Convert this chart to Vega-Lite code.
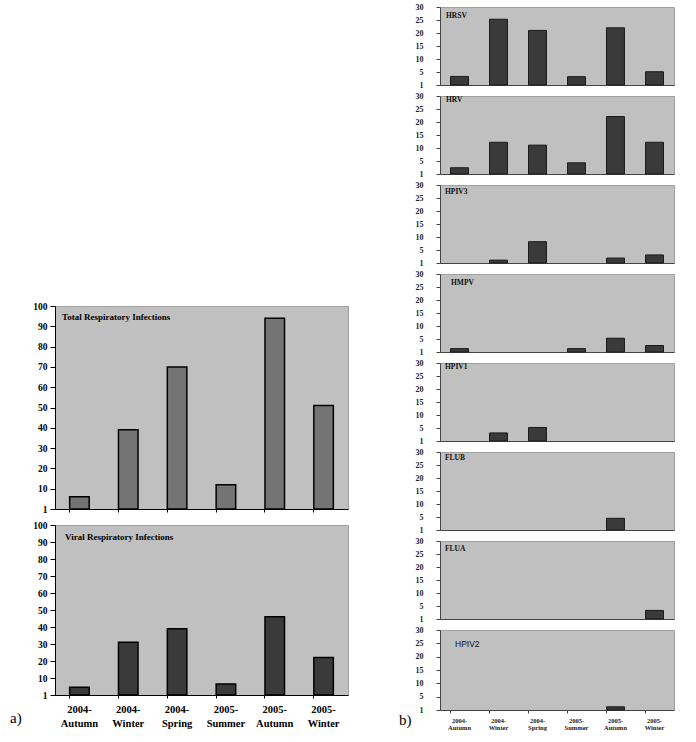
{
  "$schema": "https://vega.github.io/schema/vega-lite/v6.json",
  "padding": {"left": 10, "top": 2, "right": 5, "bottom": 5},
  "background": "white",
  "config": {
    "view": {"stroke": null},
    "axis": {"labelFont": "Liberation Serif", "labelFontWeight": "bold", "labelColor": "#000", "domainColor": "#000", "tickColor": "#000", "grid": false, "title": null}
  },
  "datasets": {
    "left": [
      {"panel": "Total", "season": "2004-Autumn", "count": 6},
      {"panel": "Total", "season": "2004-Winter", "count": 39},
      {"panel": "Total", "season": "2004-Spring", "count": 70},
      {"panel": "Total", "season": "2005-Summer", "count": 12},
      {"panel": "Total", "season": "2005-Autumn", "count": 94},
      {"panel": "Total", "season": "2005-Winter", "count": 51},
      {"panel": "Viral", "season": "2004-Autumn", "count": 4.5},
      {"panel": "Viral", "season": "2004-Winter", "count": 31},
      {"panel": "Viral", "season": "2004-Spring", "count": 39},
      {"panel": "Viral", "season": "2005-Summer", "count": 6.5},
      {"panel": "Viral", "season": "2005-Autumn", "count": 46},
      {"panel": "Viral", "season": "2005-Winter", "count": 22}
    ],
    "right": [
      {"virus": "HRSV", "season": "2004-Autumn", "count": 3.3},
      {"virus": "HRSV", "season": "2004-Winter", "count": 25.3},
      {"virus": "HRSV", "season": "2004-Spring", "count": 21},
      {"virus": "HRSV", "season": "2005-Summer", "count": 3.2},
      {"virus": "HRSV", "season": "2005-Autumn", "count": 22},
      {"virus": "HRSV", "season": "2005-Winter", "count": 5.1},
      {"virus": "HRV", "season": "2004-Autumn", "count": 2.4},
      {"virus": "HRV", "season": "2004-Winter", "count": 12.2},
      {"virus": "HRV", "season": "2004-Spring", "count": 11.1},
      {"virus": "HRV", "season": "2005-Summer", "count": 4.3},
      {"virus": "HRV", "season": "2005-Autumn", "count": 22.1},
      {"virus": "HRV", "season": "2005-Winter", "count": 12.2},
      {"virus": "HPIV3", "season": "2004-Winter", "count": 1.1},
      {"virus": "HPIV3", "season": "2004-Spring", "count": 8.2},
      {"virus": "HPIV3", "season": "2005-Autumn", "count": 1.9},
      {"virus": "HPIV3", "season": "2005-Winter", "count": 3.1},
      {"virus": "HMPV", "season": "2004-Autumn", "count": 1.3},
      {"virus": "HMPV", "season": "2005-Summer", "count": 1.3},
      {"virus": "HMPV", "season": "2005-Autumn", "count": 5.3},
      {"virus": "HMPV", "season": "2005-Winter", "count": 2.5},
      {"virus": "HPIV1", "season": "2004-Winter", "count": 3.1},
      {"virus": "HPIV1", "season": "2004-Spring", "count": 5.2},
      {"virus": "FLUB", "season": "2005-Autumn", "count": 4.5},
      {"virus": "FLUA", "season": "2005-Winter", "count": 3.3},
      {"virus": "HPIV2", "season": "2005-Autumn", "count": 1.2}
    ]
  },
  "hconcat": [
    {
      "data": {"name": "left"},
      "bounds": "flush",
      "spacing": 16,
      "title": {"text": "a)", "orient": "bottom", "anchor": "start", "frame": "group", "baseline": "top", "offset": 0, "dx": -45, "dy": -18, "font": "Liberation Serif", "fontSize": 15, "fontWeight": "normal", "color": "#000"},
      "vconcat": [
        {"width": 293, "height": 283, "data": {"values": []}, "mark": "rule", "encoding": {}},
        {
          "width": 293, "height": 203,
          "view": {"fill": "#c0c0c0", "stroke": "#a0a0a0"},
          "title": {"text": "Total Respiratory Infections", "anchor": "start", "frame": "group", "orient": "top", "baseline": "top", "offset": 0, "dx": 7, "dy": 21, "font": "Liberation Serif", "fontSize": 9, "fontWeight": "bold", "color": "#000"},
          "transform": [{"filter": "datum.panel == 'Total'"}],
          "mark": {"type": "bar", "fill": "#747474", "stroke": "#000", "strokeWidth": 1.5},
          "encoding": {
            "x": {"field": "season", "type": "nominal", "sort": null,
              "scale": {"domain": ["2004-Autumn", "2004-Winter", "2004-Spring", "2005-Summer", "2005-Autumn", "2005-Winter"], "paddingInner": 0.6, "paddingOuter": 0.3},
              "axis": {"labels": false, "ticks": true, "tickSize": 3, "bandPosition": 0}},
            "y": {"field": "count", "type": "quantitative", "scale": {"domain": [0, 100], "nice": false},
              "axis": {"values": [0, 10, 20, 30, 40, 50, 60, 70, 80, 90, 100], "labelExpr": "datum.value == 0 ? '1' : datum.label", "labelFontSize": 9.5, "tickSize": 5, "labelPadding": 3}}
          }
        },
        {
          "width": 293, "height": 170,
          "view": {"fill": "#c0c0c0", "stroke": "#a0a0a0"},
          "title": {"text": "Viral Respiratory Infections", "anchor": "start", "frame": "group", "orient": "top", "baseline": "top", "offset": 0, "dx": 10, "dy": 22, "font": "Liberation Serif", "fontSize": 9, "fontWeight": "bold", "color": "#000"},
          "transform": [{"filter": "datum.panel == 'Viral'"}],
          "mark": {"type": "bar", "fill": "#3a3a3a", "stroke": "#000", "strokeWidth": 1.5},
          "encoding": {
            "x": {"field": "season", "type": "nominal", "sort": null,
              "scale": {"domain": ["2004-Autumn", "2004-Winter", "2004-Spring", "2005-Summer", "2005-Autumn", "2005-Winter"], "paddingInner": 0.6, "paddingOuter": 0.3},
              "axis": {"labelExpr": "[slice(datum.label, 0, 5), slice(datum.label, 5)]", "labelAngle": 0, "labelFontSize": 10.5, "labelLineHeight": 14, "tickSize": 3, "labelPadding": 6, "bandPosition": 0}},
            "y": {"field": "count", "type": "quantitative", "scale": {"domain": [0, 100], "nice": false},
              "axis": {"values": [0, 10, 20, 30, 40, 50, 60, 70, 80, 90, 100], "labelExpr": "datum.value == 0 ? '1' : datum.label", "labelFontSize": 9.5, "tickSize": 5, "labelPadding": 3}}
          }
        }
      ]
    },
    {
      "data": {"name": "right"},
      "bounds": "flush",
      "spacing": 11,
      "title": {"text": "b)", "orient": "bottom", "anchor": "start", "frame": "group", "baseline": "top", "offset": 0, "dx": -41, "dy": -18, "font": "Liberation Serif", "fontSize": 15, "fontWeight": "normal", "color": "#000"},
      "vconcat": [
        {
          "width": 234, "height": 78,
          "view": {"fill": "#c0c0c0", "stroke": "#a0a0a0"},
          "title": {"text": "HRSV", "anchor": "start", "frame": "group", "orient": "top", "baseline": "top", "offset": 0, "dx": 6, "dy": 16, "font": "Liberation Serif", "fontSize": 7.5, "fontWeight": "bold", "color": "#111"},
          "transform": [{"filter": "datum.virus == 'HRSV'"}],
          "mark": {"type": "bar", "fill": "#3a3a3a", "stroke": "#1a1a1a", "strokeWidth": 1},
          "encoding": {
            "x": {"field": "season", "type": "nominal", "sort": null, "scale": {"domain": ["2004-Autumn", "2004-Winter", "2004-Spring", "2005-Summer", "2005-Autumn", "2005-Winter"], "paddingInner": 0.54, "paddingOuter": 0.27}, "axis": {"labels": false, "ticks": false, "domainColor": "#444"}},
            "y": {"field": "count", "type": "quantitative", "scale": {"domain": [0, 30], "nice": false}, "axis": {"values": [0, 5, 10, 15, 20, 25, 30], "labelExpr": "datum.value == 0 ? '1' : datum.label", "labelFontSize": 8, "tickSize": 4, "labelPadding": 13, "domainColor": "#444", "tickColor": "#444", "labelColor": "#222"}}
          }
        },
        {
          "width": 234, "height": 78,
          "view": {"fill": "#c0c0c0", "stroke": "#a0a0a0"},
          "title": {"text": "HRV", "anchor": "start", "frame": "group", "orient": "top", "baseline": "top", "offset": 0, "dx": 6, "dy": 11, "font": "Liberation Serif", "fontSize": 7.5, "fontWeight": "bold", "color": "#111"},
          "transform": [{"filter": "datum.virus == 'HRV'"}],
          "mark": {"type": "bar", "fill": "#3a3a3a", "stroke": "#1a1a1a", "strokeWidth": 1},
          "encoding": {
            "x": {"field": "season", "type": "nominal", "sort": null, "scale": {"domain": ["2004-Autumn", "2004-Winter", "2004-Spring", "2005-Summer", "2005-Autumn", "2005-Winter"], "paddingInner": 0.54, "paddingOuter": 0.27}, "axis": {"labels": false, "ticks": false, "domainColor": "#444"}},
            "y": {"field": "count", "type": "quantitative", "scale": {"domain": [0, 30], "nice": false}, "axis": {"values": [0, 5, 10, 15, 20, 25, 30], "labelExpr": "datum.value == 0 ? '1' : datum.label", "labelFontSize": 8, "tickSize": 4, "labelPadding": 13, "domainColor": "#444", "tickColor": "#444", "labelColor": "#222"}}
          }
        },
        {
          "width": 234, "height": 78,
          "view": {"fill": "#c0c0c0", "stroke": "#a0a0a0"},
          "title": {"text": "HPIV3", "anchor": "start", "frame": "group", "orient": "top", "baseline": "top", "offset": 0, "dx": 5, "dy": 14, "font": "Liberation Serif", "fontSize": 7.5, "fontWeight": "bold", "color": "#111"},
          "transform": [{"filter": "datum.virus == 'HPIV3'"}],
          "mark": {"type": "bar", "fill": "#3a3a3a", "stroke": "#1a1a1a", "strokeWidth": 1},
          "encoding": {
            "x": {"field": "season", "type": "nominal", "sort": null, "scale": {"domain": ["2004-Autumn", "2004-Winter", "2004-Spring", "2005-Summer", "2005-Autumn", "2005-Winter"], "paddingInner": 0.54, "paddingOuter": 0.27}, "axis": {"labels": false, "ticks": false, "domainColor": "#444"}},
            "y": {"field": "count", "type": "quantitative", "scale": {"domain": [0, 30], "nice": false}, "axis": {"values": [0, 5, 10, 15, 20, 25, 30], "labelExpr": "datum.value == 0 ? '1' : datum.label", "labelFontSize": 8, "tickSize": 4, "labelPadding": 13, "domainColor": "#444", "tickColor": "#444", "labelColor": "#222"}}
          }
        },
        {
          "width": 234, "height": 78,
          "view": {"fill": "#c0c0c0", "stroke": "#a0a0a0"},
          "title": {"text": "HMPV", "anchor": "start", "frame": "group", "orient": "top", "baseline": "top", "offset": 0, "dx": 11, "dy": 16, "font": "Liberation Serif", "fontSize": 7.5, "fontWeight": "bold", "color": "#111"},
          "transform": [{"filter": "datum.virus == 'HMPV'"}],
          "mark": {"type": "bar", "fill": "#3a3a3a", "stroke": "#1a1a1a", "strokeWidth": 1},
          "encoding": {
            "x": {"field": "season", "type": "nominal", "sort": null, "scale": {"domain": ["2004-Autumn", "2004-Winter", "2004-Spring", "2005-Summer", "2005-Autumn", "2005-Winter"], "paddingInner": 0.54, "paddingOuter": 0.27}, "axis": {"labels": false, "ticks": false, "domainColor": "#444"}},
            "y": {"field": "count", "type": "quantitative", "scale": {"domain": [0, 30], "nice": false}, "axis": {"values": [0, 5, 10, 15, 20, 25, 30], "labelExpr": "datum.value == 0 ? '1' : datum.label", "labelFontSize": 8, "tickSize": 4, "labelPadding": 13, "domainColor": "#444", "tickColor": "#444", "labelColor": "#222"}}
          }
        },
        {
          "width": 234, "height": 78,
          "view": {"fill": "#c0c0c0", "stroke": "#a0a0a0"},
          "title": {"text": "HPIV1", "anchor": "start", "frame": "group", "orient": "top", "baseline": "top", "offset": 0, "dx": 5, "dy": 11, "font": "Liberation Serif", "fontSize": 7.5, "fontWeight": "bold", "color": "#111"},
          "transform": [{"filter": "datum.virus == 'HPIV1'"}],
          "mark": {"type": "bar", "fill": "#3a3a3a", "stroke": "#1a1a1a", "strokeWidth": 1},
          "encoding": {
            "x": {"field": "season", "type": "nominal", "sort": null, "scale": {"domain": ["2004-Autumn", "2004-Winter", "2004-Spring", "2005-Summer", "2005-Autumn", "2005-Winter"], "paddingInner": 0.54, "paddingOuter": 0.27}, "axis": {"labels": false, "ticks": false, "domainColor": "#444"}},
            "y": {"field": "count", "type": "quantitative", "scale": {"domain": [0, 30], "nice": false}, "axis": {"values": [0, 5, 10, 15, 20, 25, 30], "labelExpr": "datum.value == 0 ? '1' : datum.label", "labelFontSize": 8, "tickSize": 4, "labelPadding": 13, "domainColor": "#444", "tickColor": "#444", "labelColor": "#222"}}
          }
        },
        {
          "width": 234, "height": 78,
          "view": {"fill": "#c0c0c0", "stroke": "#a0a0a0"},
          "title": {"text": "FLUB", "anchor": "start", "frame": "group", "orient": "top", "baseline": "top", "offset": 0, "dx": 5, "dy": 13, "font": "Liberation Serif", "fontSize": 7.5, "fontWeight": "bold", "color": "#111"},
          "transform": [{"filter": "datum.virus == 'FLUB'"}],
          "mark": {"type": "bar", "fill": "#3a3a3a", "stroke": "#1a1a1a", "strokeWidth": 1},
          "encoding": {
            "x": {"field": "season", "type": "nominal", "sort": null, "scale": {"domain": ["2004-Autumn", "2004-Winter", "2004-Spring", "2005-Summer", "2005-Autumn", "2005-Winter"], "paddingInner": 0.54, "paddingOuter": 0.27}, "axis": {"labels": false, "ticks": false, "domainColor": "#444"}},
            "y": {"field": "count", "type": "quantitative", "scale": {"domain": [0, 30], "nice": false}, "axis": {"values": [0, 5, 10, 15, 20, 25, 30], "labelExpr": "datum.value == 0 ? '1' : datum.label", "labelFontSize": 8, "tickSize": 4, "labelPadding": 13, "domainColor": "#444", "tickColor": "#444", "labelColor": "#222"}}
          }
        },
        {
          "width": 234, "height": 78,
          "view": {"fill": "#c0c0c0", "stroke": "#a0a0a0"},
          "title": {"text": "FLUA", "anchor": "start", "frame": "group", "orient": "top", "baseline": "top", "offset": 0, "dx": 5, "dy": 15, "font": "Liberation Serif", "fontSize": 7.5, "fontWeight": "bold", "color": "#111"},
          "transform": [{"filter": "datum.virus == 'FLUA'"}],
          "mark": {"type": "bar", "fill": "#3a3a3a", "stroke": "#1a1a1a", "strokeWidth": 1},
          "encoding": {
            "x": {"field": "season", "type": "nominal", "sort": null, "scale": {"domain": ["2004-Autumn", "2004-Winter", "2004-Spring", "2005-Summer", "2005-Autumn", "2005-Winter"], "paddingInner": 0.54, "paddingOuter": 0.27}, "axis": {"labels": false, "ticks": false, "domainColor": "#444"}},
            "y": {"field": "count", "type": "quantitative", "scale": {"domain": [0, 30], "nice": false}, "axis": {"values": [0, 5, 10, 15, 20, 25, 30], "labelExpr": "datum.value == 0 ? '1' : datum.label", "labelFontSize": 8, "tickSize": 4, "labelPadding": 13, "domainColor": "#444", "tickColor": "#444", "labelColor": "#222"}}
          }
        },
        {
          "width": 234, "height": 80,
          "view": {"fill": "#c0c0c0", "stroke": "#a0a0a0"},
          "title": {"text": "HPIV2", "anchor": "start", "frame": "group", "orient": "top", "baseline": "top", "offset": 0, "dx": 15, "dy": 22, "font": "Liberation Sans", "fontSize": 8.5, "fontWeight": "normal", "color": "#111"},
          "transform": [{"filter": "datum.virus == 'HPIV2'"}],
          "mark": {"type": "bar", "fill": "#3a3a3a", "stroke": "#1a1a1a", "strokeWidth": 1},
          "encoding": {
            "x": {"field": "season", "type": "nominal", "sort": null, "scale": {"domain": ["2004-Autumn", "2004-Winter", "2004-Spring", "2005-Summer", "2005-Autumn", "2005-Winter"], "paddingInner": 0.54, "paddingOuter": 0.27}, "axis": {"labelExpr": "[slice(datum.label, 0, 5), slice(datum.label, 5)]", "labelAngle": 0, "labelFontSize": 6.5, "labelLineHeight": 7, "tickSize": 3, "labelPadding": 4, "bandPosition": 0, "domainColor": "#444", "tickColor": "#444", "labelColor": "#222"}},
            "y": {"field": "count", "type": "quantitative", "scale": {"domain": [0, 30], "nice": false}, "axis": {"values": [0, 5, 10, 15, 20, 25, 30], "labelExpr": "datum.value == 0 ? '1' : datum.label", "labelFontSize": 8, "tickSize": 4, "labelPadding": 13, "domainColor": "#444", "tickColor": "#444", "labelColor": "#222"}}
          }
        }
      ]
    }
  ],
  "spacing": 50
}
